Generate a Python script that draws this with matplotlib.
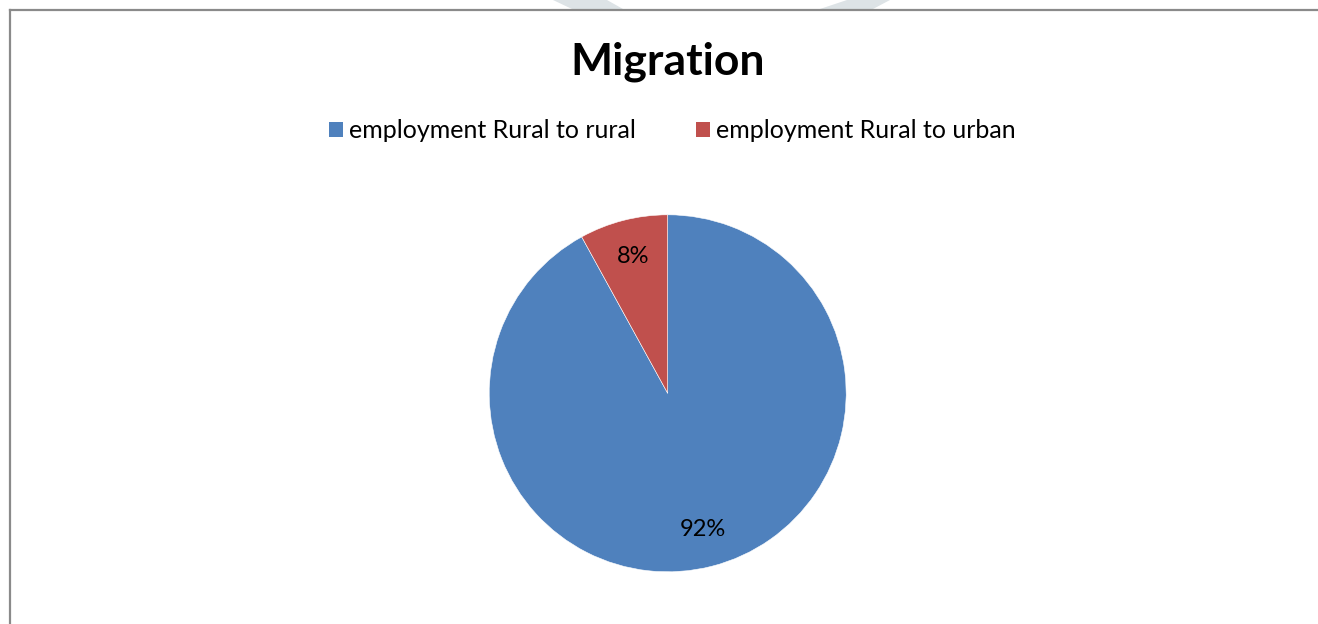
import matplotlib
matplotlib.use("Agg")
import matplotlib.pyplot as plt
from matplotlib.patches import Patch, Polygon
from matplotlib.lines import Line2D

# Data
labels = ["employment Rural to rural", "employment Rural to urban"]
shares = [92, 8]
colors = ["#4F81BD", "#C0504D"]
title = "Migration"

W, H = 1318, 624
plt.rcParams["font.family"] = ["Lato", "DejaVu Sans"]

fig = plt.figure(figsize=(W / 100, H / 100), dpi=100)
fig.patch.set_facecolor("white")


def px(x, y):
    # pixel position measured from the top-left corner -> figure fraction
    return x / W, 1 - y / H


# faint page watermark peeking above the frame
for pts in ([(553, 0), (607, 0), (623, 9), (572, 9)],
            [(847, 0), (890, 0), (873, 9), (820, 9)]):
    fig.patches.append(Polygon([px(*p) for p in pts], closed=True,
                               transform=fig.transFigure, facecolor="#dde3e6",
                               edgecolor="none", zorder=0))

# chart frame (top and left edges only)
fig.add_artist(Line2D([px(9.5, 9.5)[0], 1], [px(9.5, 9.5)[1]] * 2,
                      transform=fig.transFigure, color="#8a8a8a", lw=1.6))
fig.add_artist(Line2D([px(9.5, 9.5)[0]] * 2, [px(9.5, 9.5)[1], 0],
                      transform=fig.transFigure, color="#8a8a8a", lw=1.6))

fig.text(*px(668, 62), title, ha="center", va="center",
         fontsize=32, fontweight="bold", color="black")

# pie axes: centre (667.7, 393.3) px, radius 178.5 px
cx, cy, r = 667.7, 393.3, 178.5
half = 1.25 * r
ax = fig.add_axes([(cx - half) / W, (H - cy - half) / H, 2 * half / W, 2 * half / H])
wedges, _, autotexts = ax.pie(shares, colors=colors, startangle=90, counterclock=False,
                              autopct="%1.0f%%", pctdistance=0.79,
                              wedgeprops=dict(edgecolor="white", linewidth=0.4),
                              textprops=dict(fontsize=17, color="black"))
ax.set_xlim(-1.25, 1.25)
ax.set_ylim(-1.25, 1.25)

handles = [Patch(facecolor=c, edgecolor="none") for c in colors]
fig.legend(handles, labels, loc="center", bbox_to_anchor=px(672.5, 131), ncol=2,
           frameon=False, fontsize=18, handlelength=0.56, handleheight=0.56,
           handletextpad=0.25, columnspacing=2.4)

fig.savefig("out.png", dpi=100, facecolor="white")
